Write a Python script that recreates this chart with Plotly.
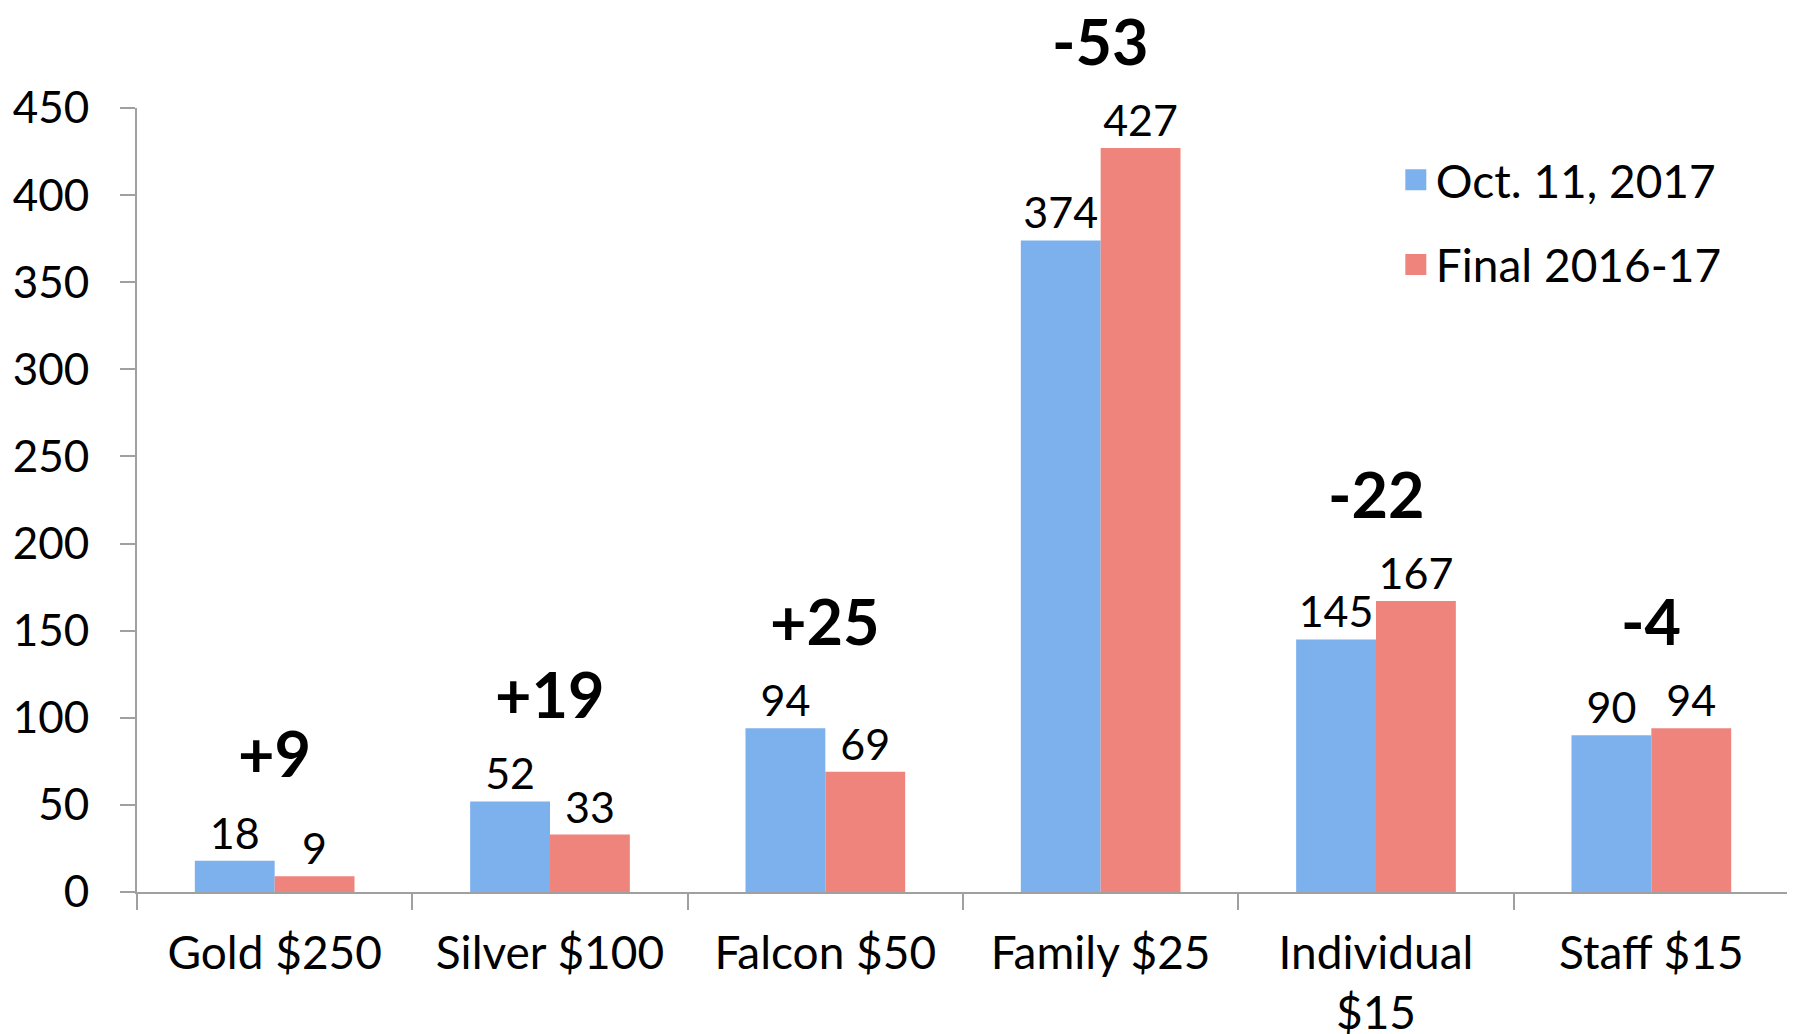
import plotly.graph_objects as go

categories = ["Gold $250", "Silver $100", "Falcon $50", "Family $25", "Individual<br>$15", "Staff $15"]
oct_2017 = [18, 52, 94, 374, 145, 90]
final_2016_17 = [9, 33, 69, 427, 167, 94]
y_ticks = [0, 50, 100, 150, 200, 250, 300, 350, 400, 450]
series_names = ["Oct. 11, 2017", "Final 2016-17"]
series_colors = ["#7cb1ee", "#ef847c"]

FONT = "Lato"
fig = go.Figure()
for name, vals, col in zip(series_names, [oct_2017, final_2016_17], series_colors):
    fig.add_trace(go.Bar(
        x=categories, y=vals, name=name, legendgroup=name, showlegend=False,
        marker=dict(color=col, line=dict(width=0)),
        text=[str(v) for v in vals], textposition="outside",
        textfont=dict(size=43, color="black", family=FONT),
        constraintext="none", cliponaxis=False,
    ))
# legend-only entries (larger square swatches)
for name, col in zip(series_names, series_colors):
    fig.add_trace(go.Scatter(
        x=[None], y=[None], mode="markers", name=name, legendgroup=name,
        marker=dict(symbol="square", size=16, color=col, line=dict(color=col, width=5)),
    ))

for c, a, b in zip(categories, oct_2017, final_2016_17):
    d = a - b
    fig.add_annotation(
        x=c, y=max(a, b), text=f"<b>{d:+d}</b>", showarrow=False,
        yanchor="middle", yshift=108,
        font=dict(size=63, color="black", family=FONT),
    )

fig.update_layout(
    width=1795, height=1034,
    margin=dict(l=129, r=14, t=100, b=150),
    plot_bgcolor="white", paper_bgcolor="white",
    barmode="group", bargap=0.42, bargroupgap=0,
    font=dict(family=FONT, size=43, color="black"),
    legend=dict(x=0.762, y=0.955, xanchor="left", yanchor="top",
                font=dict(size=46, family=FONT), bgcolor="rgba(0,0,0,0)",
                tracegroupgap=22, itemsizing="trace"),
    showlegend=True,
)
fig.update_xaxes(
    showline=True, linecolor="#a0a0a0", linewidth=2, automargin=False,
    ticks="outside", tickson="boundaries", ticklen=16, tickcolor="#a0a0a0", tickwidth=2,
    tickfont=dict(size=46, family=FONT), showgrid=False, ticklabelstandoff=20,
)
fig.update_yaxes(
    range=[0, 450], tickvals=y_ticks, showline=True, linecolor="#a0a0a0", linewidth=2,
    automargin=False,
    ticks="outside", ticklen=15, tickcolor="#a0a0a0", tickwidth=2,
    tickfont=dict(size=44, family=FONT), showgrid=False, zeroline=False, ticklabelstandoff=22,
)

fig.write_html("out.html")
